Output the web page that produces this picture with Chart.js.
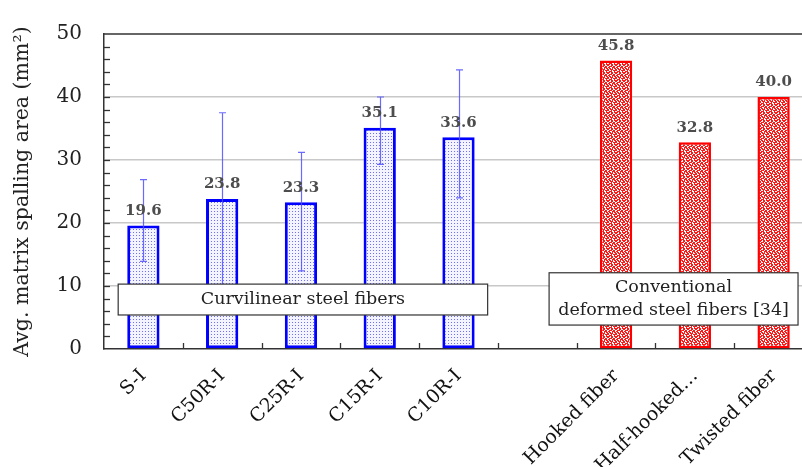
<!DOCTYPE html>
<html lang="en">
<head>
<meta charset="UTF-8">
<title>Avg. matrix spalling area</title>
<script src="https://cdn.jsdelivr.net/npm/chart.js"></script>
<style>
  html, body { margin: 0; padding: 0; background: #fff; }
  #wrap { width: 802px; height: 467px; overflow: hidden; }
</style>
</head>
<body>
<div id="wrap"><canvas id="chart" width="802" height="467"></canvas></div>
<script>
// data
const categories = ['S-I', 'C50R-I', 'C25R-I', 'C15R-I', 'C10R-I', '', 'Hooked fiber', 'Half-hooked\u2026', 'Twisted fiber'];
const spallArea = [19.6, 23.8, 23.3, 35.1, 33.6, null, 45.8, 32.8, 40.0];
const errLow = [13.9, 10.1, 12.4, 29.3, 24.0, null, null, null, null];
const errHigh = [26.9, 37.5, 31.2, 40.0, 44.3, null, null, null, null];
const group = ['c', 'c', 'c', 'c', 'c', null, 'd', 'd', 'd'];
const yTicks = [0, 10, 20, 30, 40, 50];

const serif = '"DejaVu Serif", "Liberation Serif", serif';

// fill patterns
function bluePattern() {
    const c = document.createElement('canvas');
    c.width = 3; c.height = 3;
    const g = c.getContext('2d');
    g.fillStyle = '#f4f4ff'; g.fillRect(0, 0, 3, 3);
    g.fillStyle = '#6f6fff';
    g.fillRect(1, 1, 1, 1);
    return g.createPattern(c, 'repeat');
}
function redPattern() {
    const rows = [
        'RRWRRWRR',
        'RWWRRWWR',
        'WRRRWRRW',
        'RRWWRRRW',
        'WRRWRWRR',
        'RWRRRWWR',
        'RWWRWRRR',
        'WRRRWWRW'
    ];
    const c = document.createElement('canvas');
    c.width = 8; c.height = 8;
    const g = c.getContext('2d');
    for (let y = 0; y < 8; y++) {
        for (let x = 0; x < 8; x++) {
            g.fillStyle = rows[y][x] === 'R' ? '#ff1a1a' : '#fff';
            g.fillRect(x, y, 1, 1);
        }
    }
    return g.createPattern(c, 'repeat');
}
const blueFill = bluePattern();
const redFill = redPattern();

// the original plot runs past the right edge of the picture
const widenArea = {
    id: 'widenArea',
    afterLayout(chart) {
        const xs = chart.scales.x;
        const right = 813;
        xs.right = right;
        xs.width = right - xs.left;
        xs.configure();
        chart.chartArea.right = right;
        chart.chartArea.width = right - chart.chartArea.left;
    }
};

// error bars, value labels, minor ticks, group boxes
const extras = {
    id: 'extras',
    afterDatasetsDraw(chart) {
        const ctx = chart.ctx;
        const xs = chart.scales.x, ys = chart.scales.y;
        const area = chart.chartArea;
        const meta = chart.getDatasetMeta(0);
        ctx.save();

        // inward ticks on y axis
        ctx.strokeStyle = '#333';
        ctx.lineWidth = 1.3;
        for (let v = 2; v < 50; v += 2) {
            const y = Math.round(ys.getPixelForValue(v)) + 0.5;
            ctx.beginPath();
            ctx.moveTo(area.left, y);
            ctx.lineTo(area.left + 6, y);
            ctx.stroke();
        }
        // inward ticks on x axis between categories
        for (let i = 0; i < categories.length - 1; i++) {
            const x = Math.round((xs.getPixelForValue(i) + xs.getPixelForValue(i + 1)) / 2) + 0.5;
            ctx.beginPath();
            ctx.moveTo(x, area.bottom);
            ctx.lineTo(x, area.bottom - 6);
            ctx.stroke();
        }

        // error bars
        ctx.strokeStyle = 'rgba(80,80,255,0.85)';
        ctx.lineWidth = 1.2;
        errLow.forEach((lo, i) => {
            if (lo == null) return;
            const x = Math.round(meta.data[i].x) + 0.5;
            const y1 = ys.getPixelForValue(lo), y2 = ys.getPixelForValue(errHigh[i]);
            ctx.beginPath();
            ctx.moveTo(x, y1); ctx.lineTo(x, y2);
            ctx.moveTo(x - 3.5, y1); ctx.lineTo(x + 3.5, y1);
            ctx.moveTo(x - 3.5, y2); ctx.lineTo(x + 3.5, y2);
            ctx.stroke();
        });

        // value labels
        ctx.fillStyle = '#4d4d4d';
        ctx.font = 'bold 15px ' + serif;
        ctx.textAlign = 'center';
        ctx.textBaseline = 'bottom';
        spallArea.forEach((v, i) => {
            if (v == null) return;
            const bar = meta.data[i];
            ctx.fillText(v.toFixed(1), bar.x, bar.y - 7);
        });

        // group boxes
        function box(x0, x1, v0, v1, lines) {
            const px0 = xs.getPixelForValue(x0), px1 = xs.getPixelForValue(x1);
            const py0 = ys.getPixelForValue(v1), py1 = ys.getPixelForValue(v0);
            ctx.fillStyle = '#fff';
            ctx.fillRect(px0, py0, px1 - px0, py1 - py0);
            ctx.strokeStyle = '#333';
            ctx.lineWidth = 1.2;
            ctx.strokeRect(px0, py0, px1 - px0, py1 - py0);
            ctx.fillStyle = '#222';
            ctx.font = '17.5px ' + serif;
            ctx.textAlign = 'center';
            ctx.textBaseline = 'middle';
            const lh = 23;
            const cy = (py0 + py1) / 2 - (lines.length - 1) * lh / 2;
            lines.forEach((t, k) => ctx.fillText(t, (px0 + px1) / 2, cy + k * lh));
        }
        box(-0.32, 4.37, 5.4, 10.3, ['Curvilinear steel fibers']);
        box(5.15, 8.31, 3.8, 12.1, ['Conventional', 'deformed steel fibers [34]']);

        ctx.restore();
    }
};

new Chart(document.getElementById('chart'), {
    type: 'bar',
    data: {
        labels: categories,
        datasets: [{
            data: spallArea,
            backgroundColor: group.map(g => g === 'd' ? redFill : blueFill),
            borderColor: group.map(g => g === 'd' ? '#ff0000' : '#0000ff'),
            borderWidth: group.map(g => g === 'd' ? 2.5 : 3),
            borderSkipped: false,
            barPercentage: 0.41,
            categoryPercentage: 1
        }]
    },
    options: {
        responsive: false,
        animation: false,
        layout: { padding: { top: 18, right: 0, bottom: 0, left: 0 } },
        plugins: { legend: { display: false }, tooltip: { enabled: false } },
        scales: {
            x: {
                grid: { display: false, drawTicks: false },
                border: { display: true, color: '#333', width: 1.5 },
                ticks: {
                    color: '#111',
                    font: { family: serif, size: 19 },
                    minRotation: 45,
                    maxRotation: 45,
                    autoSkip: false,
                    padding: 16
                },
                afterFit(scale) { scale.height = 118; }
            },
            y: {
                min: 0,
                max: 50,
                afterBuildTicks(scale) { scale.ticks = yTicks.map(v => ({ value: v })); },
                grid: {
                    drawTicks: false,
                    color: ctx => (ctx.tick && ctx.tick.value > 0 && ctx.tick.value < 50) ? '#c8c8c8' : 'rgba(0,0,0,0)',
                    lineWidth: 1.5
                },
                border: { display: true, color: '#333', width: 1.5 },
                ticks: {
                    color: '#222',
                    font: { family: serif, size: 20 },
                    padding: 22
                },
                title: {
                    display: true,
                    text: 'Avg. matrix spalling area (mm\u00b2)',
                    color: '#222',
                    font: { family: serif, size: 20.5 },
                    padding: { top: 10, bottom: 0 }
                },
                afterFit(scale) { scale.width = 104; }
            }
        }
    },
    plugins: [widenArea, extras, {
        id: 'topBorder',
        afterDraw(chart) {
            const a = chart.chartArea, ctx = chart.ctx;
            ctx.save();
            ctx.strokeStyle = '#333';
            ctx.lineWidth = 1.5;
            ctx.beginPath();
            ctx.moveTo(a.left, a.top);
            ctx.lineTo(a.right, a.top);
            ctx.stroke();
            ctx.restore();
        }
    }]
});
</script>
</body>
</html>
